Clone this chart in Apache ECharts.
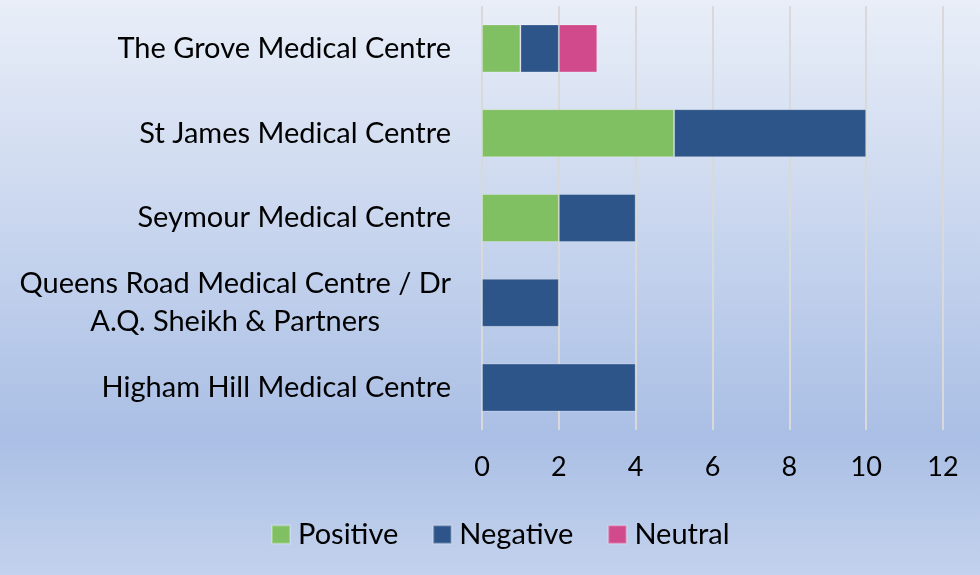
<!DOCTYPE html>
<html>
<head>
<meta charset="utf-8">
<script src="https://cdn.jsdelivr.net/npm/echarts@6.0.0/dist/echarts.min.js"></script>
<style>
  html, body { margin: 0; padding: 0; }
  #main { width: 980px; height: 575px; }
</style>
</head>
<body>
<div id="main"></div>
<script>
// categories, top to bottom
const practices = [
  "The Grove Medical Centre",
  "St James Medical Centre",
  "Seymour Medical Centre",
  "Queens Road Medical Centre / Dr\nA.Q. Sheikh & Partners",
  "Higham Hill Medical Centre"
]
const positive = [1, 5, 2, 0, 0]
const negative = [1, 5, 2, 2, 4]
const neutral = [1, 0, 0, 0, 0]
const xTicks = [0, 2, 4, 6, 8, 10, 12]

const colors = {
  positive: "#80bf62",
  negative: "#2d5589",
  neutral: "#d14a8c"
}

const font = "Lato"

const chart = echarts.init(document.getElementById("main"))

const seriesOf = (name, data, color) => ({
  name: name,
  type: "bar",
  stack: "total",
  barWidth: 48,
  itemStyle: { color: color, borderColor: "rgba(255,255,255,0.25)", borderWidth: 1 },
  data: data.map(v => v || null)
})

chart.setOption({
  backgroundColor: {
    type: "linear", x: 0, y: 0, x2: 0, y2: 1,
    colorStops: [
      { offset: 0, color: "#e9eef8" },
      { offset: 0.76, color: "#aabfe5" },
      { offset: 1, color: "#c3d2ed" }
    ]
  },
  animation: false,
  grid: { left: 482, right: 37, top: 6, bottom: 145 },
  legend: {
    left: 266,
    top: 515,
    icon: "rect",
    itemWidth: 18,
    itemHeight: 18,
    itemGap: 34,
    textStyle: { fontFamily: font, fontSize: 29, color: "#000", padding: [0, 0, 0, 3] },
    data: ["Positive", "Negative", "Neutral"]
  },
  xAxis: {
    type: "value",
    min: xTicks[0],
    max: xTicks[xTicks.length - 1],
    interval: 2,
    axisLine: { show: false },
    axisTick: { show: false },
    splitLine: { lineStyle: { color: "#d9d9d9", width: 2 } },
    axisLabel: { margin: 24, fontFamily: font, fontSize: 27, color: "#000" }
  },
  yAxis: {
    type: "category",
    inverse: true,
    data: practices,
    axisLine: { show: false },
    axisTick: { show: false },
    axisLabel: {
      margin: 31,
      fontFamily: font,
      fontSize: 29,
      color: "#000",
      formatter: v => v.split("\n").map(s => "{c|" + s + "}").join("\n"),
      rich: {
        c: { align: "center", fontFamily: font, fontSize: 29, color: "#000", lineHeight: 38 }
      }
    }
  },
  series: [
    seriesOf("Positive", positive, colors.positive),
    seriesOf("Negative", negative, colors.negative),
    seriesOf("Neutral", neutral, colors.neutral)
  ]
})
</script>
</body>
</html>
